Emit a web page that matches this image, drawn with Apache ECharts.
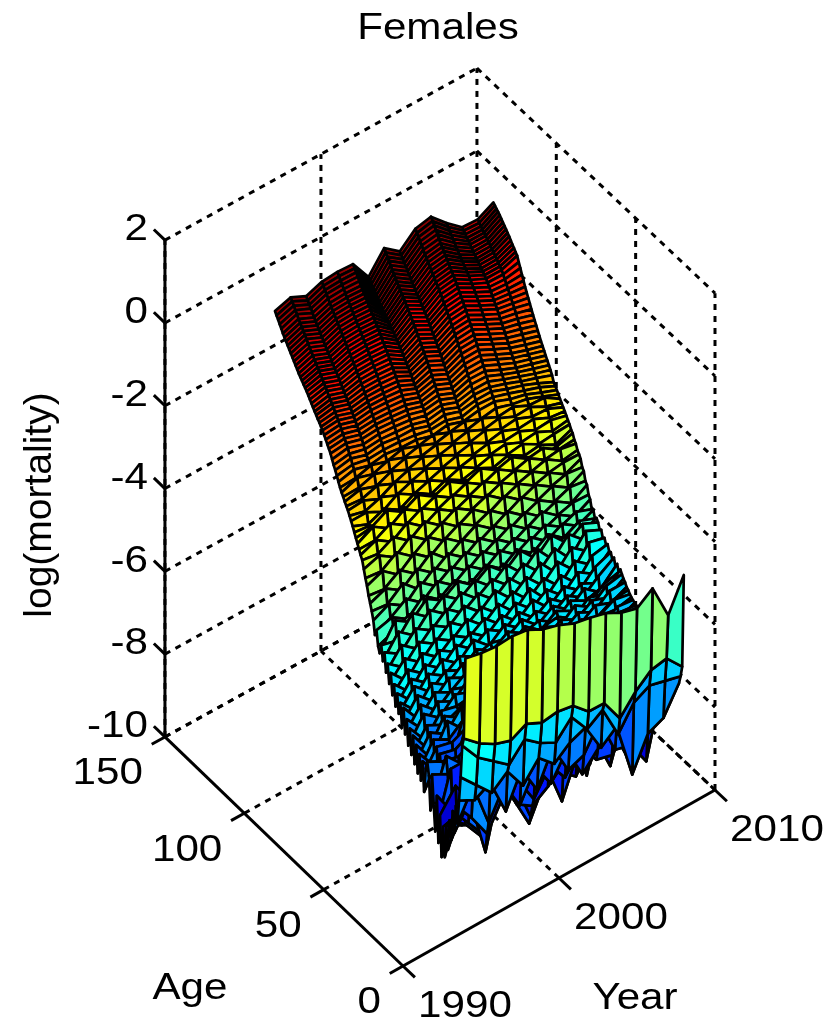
<!DOCTYPE html>
<html><head><meta charset="utf-8"><style>html,body{margin:0;background:#fff}#c{width:837px;height:1024px}</style>
<script src="https://cdn.jsdelivr.net/npm/echarts@6/dist/echarts.min.js"></script></head><body><div id="c"></div><script>
const years=[1994,1995,1996,1997,1998,1999,2000,2001,2002,2003,2004,2005,2006,2007,2008];
const ageTicks=[0,50,100,150];
const yearTicks=[1990,2000,2010];
const zTicks=[-10,-8,-6,-4,-2,0,2];
// log mortality x100; one row per age (0,1,2,...,120), one value per year
const logMortalityX100=[
[-342,-351,-355,-352,-358,-378,-389,-406,-414,-424,-444,-455,-428,-514,-438],
[-539,-572,-595,-608,-589,-607,-602,-609,-644,-645,-703,-660,-629,-622,-663],
[-560,-610,-640,-670,-630,-660,-680,-640,-690,-665,-745,-690,-670,-680,-690],
[-640,-680,-720,-690,-745,-700,-735,-705,-690,-760,-730,-867,-790,-773,-710],
[-700,-720,-700,-790,-710,-780,-700,-775,-760,-700,-790,-800,-860,-700,-700],
[-760,-690,-800,-730,-800,-730,-790,-730,-810,-770,-750,-840,-780,-760,-680],
[-720,-770,-830,-764,-745,-810,-750,-800,-750,-800,-810,-770,-800,-720,-670],
[-790,-730,-878,-720,-805,-830,-805,-770,-800,-750,-840,-720,-730,-750,-665],
[-740,-790,-840,-770,-760,-860,-760,-865,-770,-800,-800,-760,-770,-715,-660],
[-815,-740,-800,-730,-800,-880,-800,-800,-830,-770,-790,-730,-720,-745,-655],
[-770,-800,-850,-780,-740,-820,-730,-840,-780,-825,-740,-780,-760,-710,-650],
[-845,-750,-790,-720,-790,-770,-790,-760,-810,-800,-770,-720,-700,-735,-650],
[-790,-810,-830,-770,-720,-810,-740,-790,-750,-860,-720,-770,-750,-700,-650],
[-870,-740,-770,-700,-780,-740,-780,-740,-800,-780,-760,-710,-700,-720,-650],
[-800,-790,-810,-760,-720,-790,-720,-780,-730,-760,-710,-750,-720,-690,-650],
[-877,-820,-740,-690,-770,-730,-770,-720,-780,-700,-750,-700,-690,-710,-650],
[-780,-730,-790,-750,-700,-770,-710,-760,-710,-740,-700,-730,-700,-680,-645],
[-850,-800,-720,-680,-760,-710,-750,-700,-750,-700,-720,-690,-700,-700,-645],
[-740,-800,-770,-740,-690,-750,-690,-740,-700,-720,-690,-710,-680,-670,-642],
[-830,-700,-700,-670,-740,-690,-730,-690,-720,-680,-710,-680,-690,-680,-640],
[-766,-780,-750,-720,-680,-730,-680,-720,-680,-700,-675,-700,-670,-660,-640],
[-700,-720,-800,-660,-720,-680,-710,-670,-700,-670,-690,-665,-680,-670,-638],
[-790,-680,-720,-700,-670,-710,-670,-700,-670,-685,-660,-680,-655,-650,-636],
[-710,-760,-790,-650,-705,-670,-690,-660,-680,-655,-670,-655,-665,-660,-634],
[-680,-700,-710,-690,-660,-695,-660,-680,-655,-670,-650,-665,-645,-640,-632],
[-700,-750,-770,-645,-690,-655,-675,-650,-665,-645,-660,-640,-650,-645,-630],
[-760,-690,-700,-680,-650,-680,-650,-665,-645,-655,-635,-650,-635,-625,-627],
[-690,-740,-755,-640,-675,-645,-665,-640,-650,-635,-645,-630,-635,-630,-625],
[-740,-680,-690,-672,-640,-670,-640,-650,-630,-640,-625,-635,-620,-615,-624],
[-680,-730,-745,-630,-665,-635,-650,-630,-640,-620,-635,-615,-625,-620,-622],
[-730,-670,-690,-660,-655,-640,-665,-640,-655,-630,-650,-625,-645,-615,-620],
[-665,-720,-650,-690,-645,-670,-635,-660,-630,-650,-625,-640,-620,-635,-618],
[-715,-660,-685,-640,-665,-635,-650,-650,-625,-640,-635,-620,-630,-610,-615],
[-650,-705,-645,-670,-650,-625,-655,-630,-640,-620,-640,-625,-615,-620,-612],
[-700,-650,-670,-655,-630,-650,-620,-645,-625,-635,-610,-630,-620,-600,-608],
[-640,-690,-640,-650,-645,-625,-640,-625,-635,-610,-630,-610,-625,-605,-602],
[-685,-630,-660,-625,-640,-620,-610,-635,-610,-630,-615,-625,-600,-615,-598],
[-625,-670,-625,-645,-610,-635,-620,-610,-630,-605,-625,-600,-620,-590,-590],
[-665,-615,-650,-620,-635,-600,-625,-615,-600,-625,-600,-620,-595,-610,-585],
[-605,-655,-610,-630,-605,-625,-595,-620,-610,-600,-620,-590,-615,-585,-578],
[-650,-600,-635,-600,-620,-600,-615,-590,-615,-605,-600,-625,-595,-610,-570],
[-600,-640,-595,-620,-590,-610,-595,-610,-585,-615,-590,-610,-620,-590,-580],
[-630,-585,-620,-590,-610,-580,-605,-580,-605,-595,-620,-590,-610,-600,-564],
[-585,-625,-580,-605,-580,-600,-590,-600,-575,-610,-585,-615,-585,-615,-575],
[-620,-575,-605,-570,-600,-565,-600,-570,-600,-580,-610,-585,-610,-580,-556],
[-570,-610,-565,-595,-560,-590,-565,-590,-565,-600,-575,-605,-580,-600,-565],
[-600,-560,-590,-555,-580,-555,-585,-555,-590,-560,-600,-570,-600,-565,-550],
[-550,-590,-545,-575,-545,-570,-545,-580,-550,-585,-560,-595,-560,-585,-552],
[-580,-540,-570,-535,-560,-530,-565,-535,-575,-540,-585,-550,-590,-545,-538],
[-535,-565,-525,-550,-520,-550,-525,-560,-530,-570,-540,-580,-540,-570,-543],
[-560,-515,-545,-510,-535,-505,-540,-510,-550,-520,-560,-525,-565,-520,-530],
[-515,-540,-500,-525,-495,-525,-500,-535,-505,-545,-510,-555,-515,-545,-535],
[-540,-490,-520,-480,-510,-480,-515,-490,-525,-495,-535,-500,-545,-500,-518],
[-505,-515,-470,-500,-470,-500,-475,-510,-480,-520,-485,-530,-490,-525,-522],
[-528,-470,-495,-460,-485,-460,-490,-465,-500,-470,-510,-475,-515,-490,-507],
[-515,-500,-480,-505,-475,-500,-480,-510,-485,-515,-490,-520,-500,-520,-500],
[-480,-470,-495,-460,-490,-465,-495,-470,-500,-475,-505,-480,-510,-490,-505],
[-495,-475,-450,-480,-450,-480,-455,-485,-460,-490,-470,-500,-480,-505,-488],
[-464,-445,-470,-435,-465,-440,-470,-445,-475,-455,-485,-465,-490,-475,-490],
[-445,-450,-420,-455,-425,-455,-430,-460,-440,-470,-450,-480,-465,-490,-470],
[-430,-415,-440,-410,-440,-415,-445,-420,-450,-430,-460,-440,-470,-460,-462],
[-415,-420,-395,-425,-395,-430,-405,-435,-415,-445,-425,-455,-440,-465,-442],
[-395,-380,-410,-380,-410,-385,-415,-395,-425,-405,-435,-420,-445,-430,-436],
[-380,-385,-360,-390,-365,-395,-375,-400,-385,-415,-395,-425,-410,-435,-416],
[-362,-350,-375,-345,-375,-355,-385,-365,-395,-375,-405,-390,-415,-405,-410],
[-344,-350,-330,-360,-335,-365,-345,-370,-355,-385,-370,-395,-385,-410,-394],
[-335,-320,-345,-320,-350,-330,-355,-340,-365,-350,-375,-365,-390,-385,-386],
[-325,-325,-305,-330,-310,-335,-320,-345,-330,-355,-345,-370,-360,-385,-380],
[-315,-295,-320,-295,-320,-305,-330,-315,-340,-325,-350,-340,-365,-360,-368],
[-305,-300,-280,-305,-285,-310,-295,-320,-305,-330,-320,-345,-340,-365,-362],
[-295,-300,-320,-297,-323,-307,-330,-315,-340,-330,-350,-345,-365,-360,-350],
[-284,-300,-284,-307,-287,-312,-297,-320,-312,-332,-322,-345,-340,-360,-345],
[-275,-275,-295,-272,-295,-282,-305,-292,-315,-305,-325,-320,-342,-338,-336],
[-266,-276,-263,-280,-266,-288,-276,-298,-290,-308,-303,-320,-316,-335,-329],
[-257,-254,-271,-251,-272,-261,-281,-271,-291,-284,-300,-297,-315,-312,-322],
[-250,-254,-242,-259,-246,-264,-254,-274,-266,-286,-279,-295,-292,-310,-315],
[-243,-234,-248,-232,-250,-240,-258,-250,-268,-260,-278,-274,-290,-292,-309],
[-235,-234,-222,-236,-225,-242,-234,-252,-244,-262,-255,-272,-270,-290,-302],
[-228,-214,-226,-213,-228,-220,-236,-228,-246,-238,-256,-252,-270,-272,-296],
[-220,-218,-208,-220,-210,-225,-218,-234,-228,-244,-238,-250,-258,-273,-289],
[-210,-201,-212,-206,-212,-213,-225,-219,-232,-226,-226,-241,-251,-267,-282],
[-199,-193,-201,-199,-201,-206,-214,-212,-225,-216,-219,-231,-245,-258,-276],
[-189,-182,-194,-188,-194,-195,-208,-202,-215,-209,-209,-224,-236,-252,-270],
[-180,-174,-184,-181,-184,-188,-199,-193,-209,-199,-202,-215,-230,-243,-257],
[-170,-164,-176,-172,-175,-180,-190,-186,-200,-192,-192,-208,-222,-236,-248],
[-160,-156,-167,-164,-167,-171,-182,-177,-193,-182,-183,-200,-215,-228,-240],
[-152,-148,-160,-156,-159,-163,-175,-169,-185,-173,-174,-192,-208,-220,-232],
[-145,-141,-152,-149,-151,-155,-168,-160,-177,-165,-165,-183,-200,-212,-224],
[-137,-133,-145,-141,-143,-147,-161,-152,-169,-156,-156,-174,-192,-204,-216],
[-130,-126,-138,-133,-135,-139,-154,-144,-162,-147,-147,-166,-184,-197,-208],
[-122,-119,-131,-126,-127,-131,-147,-136,-154,-139,-138,-157,-175,-188,-200],
[-117,-112,-125,-119,-120,-123,-141,-128,-147,-130,-129,-148,-167,-179,-191],
[-111,-106,-118,-112,-112,-116,-134,-120,-139,-122,-120,-140,-158,-170,-182],
[-106,-99,-112,-105,-105,-108,-127,-113,-132,-114,-112,-131,-150,-161,-173],
[-100,-93,-106,-98,-98,-101,-121,-105,-124,-106,-103,-123,-142,-152,-164],
[-95,-87,-100,-91,-91,-94,-115,-98,-117,-98,-95,-115,-134,-143,-155],
[-89,-81,-94,-85,-84,-87,-109,-91,-110,-90,-87,-107,-126,-134,-145],
[-83,-74,-88,-78,-77,-80,-103,-84,-103,-83,-79,-99,-118,-125,-135],
[-77,-68,-82,-72,-71,-73,-97,-77,-96,-75,-71,-91,-110,-117,-125],
[-71,-62,-76,-65,-64,-67,-91,-70,-90,-68,-64,-84,-103,-109,-115],
[-65,-56,-70,-59,-58,-60,-86,-63,-83,-61,-56,-77,-96,-101,-105],
[-60,-50,-64,-53,-51,-54,-80,-56,-76,-54,-49,-70,-89,-93,-94],
[-55,-44,-59,-47,-45,-47,-75,-50,-70,-47,-42,-63,-82,-85,-83],
[-50,-39,-53,-41,-39,-41,-70,-43,-64,-40,-35,-56,-75,-77,-71],
[-45,-33,-48,-35,-33,-35,-65,-37,-58,-33,-28,-50,-68,-69,-60],
[-40,-27,-42,-29,-27,-29,-60,-31,-52,-27,-21,-44,-62,-62,-48],
[-34,-21,-37,-23,-21,-23,-56,-25,-47,-21,-15,-38,-57,-57,-43],
[-28,-15,-31,-17,-15,-17,-51,-19,-41,-15,-9,-33,-52,-52,-37],
[-22,-9,-25,-11,-9,-11,-47,-13,-36,-9,-3,-28,-48,-47,-32],
[-16,-3,-19,-5,-3,-5,-42,-8,-31,-3,3,-23,-43,-43,-26],
[-10,4,-13,1,3,1,-38,-2,-26,3,9,-18,-39,-38,-20],
[-4,10,-7,7,9,7,-33,4,-20,9,15,-13,-35,-34,-15],
[2,16,-1,13,15,13,-28,10,-15,15,21,-8,-30,-30,-10],
[8,22,5,19,21,19,-23,16,-9,21,27,-2,-26,-25,-5],
[14,28,11,25,27,25,-18,22,-3,27,33,3,-21,-21,0],
[20,34,17,31,33,31,-13,28,3,34,40,9,-16,-16,5],
[28,42,24,38,40,38,-8,35,9,41,47,15,-12,-12,10],
[35,48,31,45,47,45,-3,42,15,47,54,21,-7,-8,14],
[42,55,37,51,53,52,3,48,21,54,61,27,-2,-4,18],
[49,62,43,58,60,58,8,55,27,60,68,33,3,1,22],
[56,68,50,64,67,65,13,62,33,67,75,39,8,6,26]
];
// view of the 3D box on the page
function project(age,year,z){
  const dy=year-1990,dz=z+10;
  return [403+15.6*dy-1.587*age, 966-8.8*dy-1.527*age-41.4*dz+4*(age/150)*(dy/20)];
}
const cMin=-9.6,cMax=0.75;
function jet(v){
  const t=Math.max(0,Math.min(1,(v-cMin)/(cMax-cMin)));
  const f=o=>Math.round(255*Math.max(0,Math.min(1,1.5-Math.abs(4*t-o))));
  return 'rgb('+f(3)+','+f(2)+','+f(1)+')';
}
const faces=[];
for(let a=logMortalityX100.length-2;a>=0;a--) for(let c=years.length-2;c>=0;c--) faces.push([a,c]);
const Z=(a,c)=>logMortalityX100[a][c]/100;
const segs=[]; // [age1,year1,z1,age2,year2,z2,solid]
function seg(a,b,solid){segs.push([...a,...b,solid?1:0]);}
const zT=zTicks[zTicks.length-1],zB=zTicks[0],yB=yearTicks[0],yE=yearTicks[2],aE=ageTicks[3];
ageTicks.slice(1).forEach(a=>seg([a,yB,zB],[a,yE,zB]));
yearTicks.slice(1).forEach(y=>seg([0,y,zB],[aE,y,zB]));
zTicks.forEach(z=>{seg([aE,yB,z],[aE,yE,z]);seg([aE,yE,z],[0,yE,z]);});
yearTicks.forEach(y=>seg([aE,y,zB],[aE,y,zT]));
ageTicks.slice(0,3).forEach(a=>seg([a,yE,zB],[a,yE,zT]));
seg([0,yB,zB],[aE,yB,zB],1);seg([0,yB,zB],[0,yE,zB],1);seg([aE,yB,zB],[aE,yB,zT],1);
ageTicks.forEach(a=>seg([a,yB,zB],[a,yB-0.85,zB],1));
yearTicks.forEach(y=>seg([0,y,zB],[-7.5,y,zB],1));
zTicks.forEach(z=>seg([aE,yB,z],[aE+7,yB,z],1));
const font='Liberation Sans, Arial, sans-serif';
const labels=[]; // text, age, year, z, dx, dy, align
zTicks.forEach(z=>labels.push([String(z),aE,yB,z,-17,-10,'right']));
ageTicks.forEach(a=>labels.push([String(a),a,yB,zB,-22,37,'right']));
yearTicks.forEach(y=>labels.push([String(y),0,y,zB,15,41,'left']));
labels.push(['Age',0,yB,zB,-213,23,'center'],['Year',0,yB,zB,232,33,'center']);
const chart=echarts.init(document.getElementById('c'),null,{renderer:'canvas'});
chart.setOption({
 animation:false,
 title:{show:false},
 grid:{left:0,right:0,top:0,bottom:0},
 xAxis:{type:'value',min:0,max:837,show:false},
 yAxis:{type:'value',min:0,max:1024,inverse:true,show:false},
 series:[
 {type:'custom',coordinateSystem:'cartesian2d',clip:false,silent:true,z:1,data:segs,
  renderItem(p,api){
   const s=segs[p.dataIndex];
   const A=api.coord(project(s[0],s[1],s[2])),B=api.coord(project(s[3],s[4],s[5]));
   return {type:'line',shape:{x1:A[0],y1:A[1],x2:B[0],y2:B[1]},
     style:{stroke:'#000',lineWidth:3,lineDash:s[6]?null:[6,6],fill:null}};
  }},
 {type:'custom',coordinateSystem:'cartesian2d',clip:false,silent:true,z:2,data:faces,
  renderItem(p,api){
   const [a,c]=faces[p.dataIndex];
   const pts=[[a,c],[a,c+1],[a+1,c+1],[a+1,c]].map(([i,j])=>api.coord(project(i,years[j],Z(i,j))));
   return {type:'polygon',shape:{points:pts},style:{fill:jet(Z(a,c)),stroke:'#000',lineWidth:2.7,lineJoin:'round'}};
  }},
 {type:'custom',coordinateSystem:'cartesian2d',clip:false,silent:true,z:3,data:labels,
  renderItem(p,api){
   const l=labels[p.dataIndex];
   const P=api.coord(project(l[1],l[2],l[3]));
   return {type:'text',x:P[0]+l[4],y:P[1]+l[5],scaleX:1.14,
     style:{text:l[0],font:'37px '+font,fill:'#000',textAlign:l[6],textVerticalAlign:'middle'}};
  }},
 {type:'custom',coordinateSystem:'cartesian2d',clip:false,silent:true,z:3,data:[['Females'],['log(mortality)']],
  renderItem(p,api){
   if(p.dataIndex===0){const P=api.coord([438,29]);
    return {type:'text',x:P[0],y:P[1],scaleX:1.14,style:{text:'Females',font:'37px '+font,fill:'#000',textAlign:'center',textVerticalAlign:'middle'}};}
   const P=api.coord([40,505]);
   return {type:'text',x:P[0],y:P[1],rotation:Math.PI/2,scaleX:1.0,style:{text:'log(mortality)',font:'39px '+font,fill:'#000',textAlign:'center',textVerticalAlign:'middle'}};
  }}
 ]
});
</script></body></html>
